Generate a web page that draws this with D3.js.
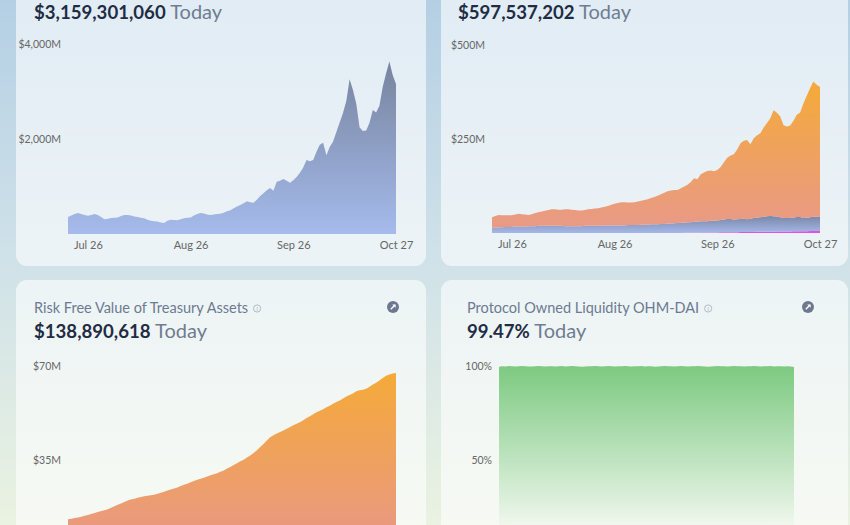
<!DOCTYPE html>
<html>
<head>
<meta charset="utf-8">
<script src="https://cdn.jsdelivr.net/npm/d3@7"></script>
<style>
  body { margin: 0; overflow: hidden; }
  svg { display: block; font-family: Lato, "Open Sans", sans-serif; }
</style>
</head>
<body>
<svg id="chart" width="850" height="525"></svg>
<script>
// ---- data (millions of USD unless noted), one value per day Jul 20 - Oct 27 ----
const startDay = new Date(2021, 6, 20);
const days = d3.timeDay.range(startDay, d3.timeDay.offset(startDay, 100));
const xTickDates = [new Date(2021, 6, 26), new Date(2021, 7, 26), new Date(2021, 8, 26), new Date(2021, 9, 27)];

const marketCap = [
  360, 390, 420, 440, 420, 400, 385, 400, 420, 400,
  360, 310, 320, 335, 340, 350, 380, 400, 400, 390,
  370, 360, 340, 330, 300, 280, 270, 265, 240, 230,
  280, 300, 295, 290, 310, 330, 340, 345, 390, 420,
  440, 430, 410, 400, 410, 420, 425, 450, 480, 500,
  540, 580, 610, 650, 690, 670, 660, 720, 800, 860,
  920, 970, 910, 1100, 1120, 1160, 1120, 1080, 1130, 1200,
  1290, 1400, 1560, 1530, 1560, 1730, 1880, 1920, 1660, 1830,
  1950, 2150, 2350, 2550, 2800, 3260, 3030, 2750, 2250, 2170,
  2180, 2340, 2610, 2560, 2700, 3100, 3380, 3630, 3350, 3160
];

// treasury market value, stacked bottom to top
const tvPink = [
  0, 0, 0, 0, 0, 0, 0, 0, 0, 0,
  0, 0, 0, 0, 0, 0, 0, 0, 0, 0,
  0, 0, 0, 0, 0, 0, 0, 0, 0, 0,
  0, 0, 0, 0, 0, 0, 0, 0, 0, 0,
  0, 0, 0, 0, 0, 0, 0, 0, 0, 0,
  0, 0, 0, 0, 0, 0.2, 0.3, 0.3, 0.5, 0.6,
  0.6, 0.8, 0.9, 1.1, 1.1, 1.2, 1.4, 1.5, 1.5, 1.7,
  1.9, 2.0, 2.0, 2.2, 2.3, 2.4, 2.6, 2.6, 2.8, 2.9,
  3.1, 3.2, 3.3, 3.3, 3.5, 3.6, 3.8, 3.9, 3.9, 4.1,
  4.2, 4.4, 4.5, 4.5, 4.7, 4.8, 5.0, 5.1, 5.3, 5.4
];
const tvBlue = [
  14, 14, 15, 15, 16, 16, 16, 17, 17, 17,
  17, 18, 18, 18, 19, 19, 19, 19, 19, 19,
  19, 19, 18, 18, 18, 18, 18, 18, 19, 19,
  19, 19, 19, 20, 20, 20, 20, 20, 20, 20,
  20, 21, 21, 21, 21, 22, 22, 22, 23, 23,
  23, 24, 24, 25, 25, 26, 26, 27, 27, 28,
  28, 29, 29, 30, 30, 30, 31, 31, 32, 33,
  34, 35, 35, 34, 34, 35, 35, 34, 35, 37,
  38, 39, 40, 41, 42, 41, 40, 38, 36, 36,
  36, 37, 38, 38, 35, 36, 37, 38, 38, 37
];
const tvOrange = [
  28, 31, 33, 32, 31, 31, 31, 32, 34, 33,
  32, 30, 32, 35, 36, 38, 40, 42, 44, 44,
  43, 43, 45, 45, 44, 43, 42, 42, 42, 44,
  45, 46, 47, 48, 50, 52, 55, 58, 60, 62,
  62, 60, 60, 61, 63, 64, 66, 68, 70, 73,
  76, 79, 83, 86, 88, 88, 88, 92, 96, 100,
  107, 116, 113, 125, 130, 134, 134, 132, 134, 141,
  152, 163, 169, 173, 186, 201, 208, 211, 198, 212,
  219, 223, 237, 248, 260, 282, 276, 268, 247, 243,
  246, 257, 272, 278, 305, 324, 343, 360, 351, 346
];

const riskFree = [
  12.9, 13.1, 13.4, 13.6, 13.9, 14.2, 14.5, 14.9, 15.3, 15.6,
  16.0, 16.3, 16.7, 17.2, 17.8, 18.3, 18.8, 19.4, 19.9, 20.3,
  20.6, 20.9, 21.2, 21.5, 21.7, 21.9, 22.1, 22.4, 22.8, 23.2,
  23.6, 24.0, 24.4, 24.8, 25.3, 25.8, 26.2, 26.7, 27.2, 27.6,
  28.0, 28.4, 28.9, 29.3, 29.7, 30.1, 30.6, 31.1, 31.8, 32.4,
  33.1, 33.8, 34.5, 35.1, 35.9, 36.7, 37.6, 38.6, 39.8, 41.0,
  42.3, 43.5, 44.2, 44.9, 45.4, 46.0, 46.6, 47.3, 47.9, 48.5,
  49.1, 49.8, 50.6, 51.3, 52.0, 52.8, 53.3, 53.9, 54.6, 55.2,
  55.9, 56.6, 57.2, 57.9, 58.6, 59.2, 59.8, 60.6, 61.0, 61.2,
  61.5, 62.3, 63.1, 63.8, 64.6, 65.5, 66.4, 66.8, 67.2, 67.4
];

// percent, Jul 30 - Oct 27
const polDays = days.slice(10);
const polPct = [
  99.6, 99.9, 99.8, 100, 99.9, 99.8, 99.9, 100, 99.9, 99.7,
  99.8, 99.9, 100, 99.9, 99.8, 99.9, 99.9, 99.7, 99.9, 100,
  99.8, 99.9, 100, 99.9, 99.8, 99.6, 99.8, 99.9, 99.9, 100,
  99.9, 99.8, 99.9, 100, 99.9, 99.7, 99.9, 99.9, 100, 99.9,
  99.8, 99.9, 99.9, 100, 99.8, 99.9, 99.9, 99.6, 99.8, 99.9,
  100, 99.9, 99.9, 99.8, 99.9, 100, 99.9, 99.8, 99.9, 99.9,
  100, 99.9, 99.8, 99.6, 99.8, 99.9, 100, 99.9, 99.9, 99.8,
  99.9, 100, 99.9, 99.9, 99.8, 99.9, 99.9, 100, 99.9, 99.8,
  99.9, 99.9, 100, 99.8, 99.9, 99.9, 99.7, 99.9, 99.8, 99.5
];

const svg = d3.select("#chart");
const defs = svg.append("defs");

// vertical gradient in user space
function grad(id, y1, y2, stops) {
  const g = defs.append("linearGradient")
      .attr("id", id)
      .attr("gradientUnits", "userSpaceOnUse")
      .attr("x1", 0).attr("x2", 0)
      .attr("y1", y1).attr("y2", y2);
  stops.forEach(s => g.append("stop")
      .attr("offset", s[0])
      .attr("stop-color", s[1])
      .attr("stop-opacity", s[2] ?? 1));
  return "url(#" + id + ")";
}

// page background + cards
svg.append("rect")
    .attr("width", 850).attr("height", 525)
    .attr("fill", grad("bg", 0, 525, [[0, "#b4cfe4"], [0.5, "#d0e2e9"], [1, "#eaf2e0"]]));

const cards = [
  {x: 16,  y: -40, w: 410, h: 306},
  {x: 441, y: -40, w: 407, h: 306},
  {x: 16,  y: 280, w: 410, h: 300},
  {x: 441, y: 280, w: 407, h: 300}
];
svg.selectAll(".card")
  .data(cards)
  .join("rect")
    .attr("class", "card")
    .attr("x", d => d.x).attr("y", d => d.y)
    .attr("width", d => d.w).attr("height", d => d.h)
    .attr("rx", 11)
    .attr("fill", "#ffffff")
    .attr("fill-opacity", 0.6);

// headers
function header(x, y, value, title, titleY, iconX) {
  if (title) {
    const t = svg.append("text")
        .attr("x", x).attr("y", titleY)
        .attr("font-size", 14.5)
        .attr("fill", "#6c7a92")
        .text(title);
    const w = t.node().getComputedTextLength();
    const ig = svg.append("g").attr("transform", "translate(" + (x + w + 9) + "," + (titleY - 4.5) + ")");
    ig.append("circle").attr("r", 3.6).attr("fill", "none").attr("stroke", "#a3abbb").attr("stroke-width", 0.8);
    ig.append("text").attr("y", 2.2).attr("text-anchor", "middle").attr("font-size", 5.5)
        .attr("fill", "#a3abbb").text("i");
    // open-in-new icon
    const og = svg.append("g").attr("transform", "translate(" + iconX + "," + (titleY - 6) + ")");
    og.append("circle").attr("r", 6).attr("fill", "#6d7890");
    og.append("path").attr("d", "M-2.2,2.2L2,-2").attr("stroke", "#fff").attr("stroke-width", 1.4);
    og.append("path").attr("d", "M-0.8,-2.6L2.6,-2.6L2.6,0.8Z").attr("fill", "#fff");
  }
  const v = svg.append("text")
      .attr("x", x).attr("y", y);
  v.append("tspan").attr("font-size", 18.6).attr("font-weight", 700).attr("fill", "#1f2c45").text(value);
  v.append("tspan").attr("font-size", 20).attr("fill", "#6f7c91").text(" Today");
}

header(34, 19, "$3,159,301,060");
header(458, 19, "$597,537,202");
header(34, 338, "$138,890,618", "Risk Free Value of Treasury Assets", 313, 393);
header(467, 338, "99.47%", "Protocol Owned Liquidity OHM-DAI", 313, 808);

// stacked area chart with its own scales and axes
function areaChart(o) {
  const x = d3.scaleTime().domain(d3.extent(o.dates)).range([o.left, o.right]);
  const y = d3.scaleLinear().domain([0, o.yMax]).range([o.bottom, o.top]);
  const idx = d3.range(o.dates.length);
  const layers = d3.stack()
      .keys(d3.range(o.series.length))
      .value((i, k) => o.series[k].values[i])(idx);
  const area = d3.area()
      .x(d => x(o.dates[d.data]))
      .y0(d => y(d[0]))
      .y1(d => y(d[1]));
  svg.append("g")
    .selectAll("path")
    .data(layers)
    .join("path")
      .attr("d", area)
      .attr("fill", (d, i) => o.series[i].fill);

  const ya = svg.append("g")
      .attr("transform", "translate(" + o.left + ",0)")
      .call(d3.axisLeft(y).tickValues(o.yTicks).tickFormat(o.yFmt).tickSize(0).tickPadding(7));
  ya.select(".domain").remove();
  ya.selectAll("text").attr("font-family", "Lato, sans-serif").attr("font-size", 10.5).attr("fill", "#666");

  if (o.xTicks) {
    const xa = svg.append("g")
        .attr("transform", "translate(0," + o.bottom + ")")
        .call(d3.axisBottom(x).tickValues(o.xTicks).tickFormat(d3.timeFormat("%b %-d")).tickSize(0).tickPadding(7));
    xa.select(".domain").remove();
    xa.selectAll("text").attr("font-family", "Lato, sans-serif").attr("font-size", 11).attr("fill", "#666");
  }
}

const fmtM = d => "$" + d3.format(",")(d) + "M";

areaChart({
  dates: days, left: 68, right: 396, top: 44, bottom: 234,
  yMax: 4000, yTicks: [2000, 4000], yFmt: fmtM, xTicks: xTickDates,
  series: [{values: marketCap, fill: grad("g1", 60, 234, [[0, "#77839d"], [1, "#a5bbec"]])}]
});

areaChart({
  dates: days, left: 492, right: 820, top: 45, bottom: 233,
  yMax: 500, yTicks: [250, 500], yFmt: fmtM, xTicks: xTickDates,
  series: [
    {values: tvPink, fill: "#e64fe3"},
    {values: tvBlue, fill: grad("g2b", 216, 233, [[0, "#7b87a6"], [1, "#a4b7e8"]])},
    {values: tvOrange, fill: grad("g2o", 80, 233, [[0, "#f5aa38"], [1, "#e8998a"]])}
  ]
});

areaChart({
  dates: days, left: 68, right: 396, top: 366, bottom: 554,
  yMax: 70, yTicks: [35, 70], yFmt: fmtM,
  series: [{values: riskFree, fill: grad("g3", 372, 554, [[0, "#f5aa38"], [1, "#e8978a"]])}]
});

areaChart({
  dates: polDays, left: 499, right: 794, top: 366, bottom: 554,
  yMax: 100, yTicks: [50, 100], yFmt: d => d + "%",
  series: [{values: polPct, fill: grad("g4", 366, 535, [[0, "#7dca80"], [1, "#7dca80", 0]])}]
});
</script>
</body>
</html>
